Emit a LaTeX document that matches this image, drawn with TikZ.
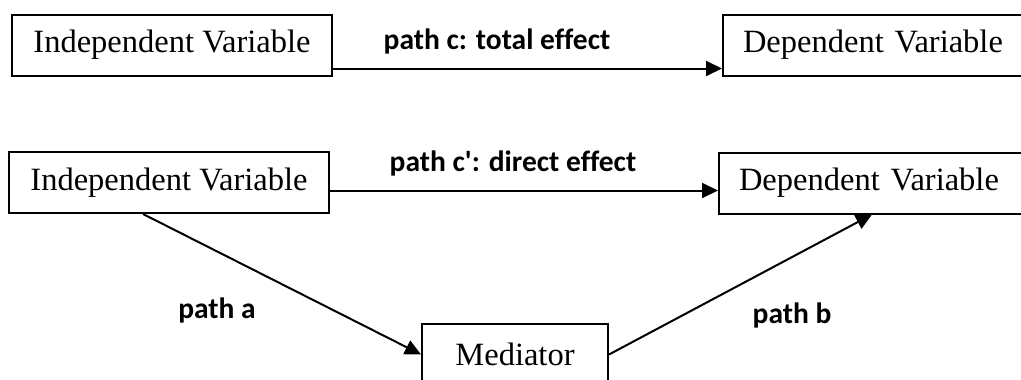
\documentclass[tikz,border=0pt]{standalone}
\usepackage{fontspec}
\setmainfont{Liberation Serif}
\newfontfamily\lblfont[Ligatures={TeXOff,CommonOff}]{Carlito}
\usetikzlibrary{arrows.meta}
\begin{document}
\begin{tikzpicture}[x=1pt,y=-1pt,
  box/.style={draw, line width=2pt, inner sep=0pt, minimum height=61pt,
    font=\fontsize{32.5}{36}\selectfont},
  lab/.style={inner sep=0pt, font=\lblfont\bfseries\fontsize{29.5}{33}\selectfont},
  arr/.style={line width=2pt, -{Triangle[length=16pt,width=15pt]}}]
\useasboundingbox (0,0) rectangle (1021,380);
% top row
\node[box, minimum width=320pt] (iv1) at (172,45) {Independent Variable};
\node[box, minimum width=302pt, anchor=west, text width=262pt, inner xsep=20pt, align=left] (dv1) at (722,45) {Dependent Variable};
% bottom row
\node[box, minimum width=320pt] (iv2) at (169,182.5) {Independent Variable};
\node[box, minimum width=306pt, anchor=west, text width=266pt, inner xsep=20pt, align=left] (dv2) at (718,183) {Dependent Variable};
\node[box, minimum width=186pt] (med) at (515,354.5) {Mediator};
% connectors
\coordinate (cs) at ([yshift=8pt]iv1.south east);
\draw[arr] (cs) -- (cs -| dv1.west);
\coordinate (cps) at ([yshift=-8pt]iv2.east);
\draw[arr] (cps) -- (cps -| dv2.west);
\draw[arr] ([xshift=-26pt]iv2.south) -- (med.west);
\draw[arr] (med.east) -- (dv2.south);
% labels
\node[lab] (lc) at (497,41) {path c: total effect};
\node[lab] (lcp) at (513,163) {path c': direct effect};
\node[lab] (la) at (217,310) {path a};
\node[lab] (lb) at (792,315) {path b};
\end{tikzpicture}
\end{document}
